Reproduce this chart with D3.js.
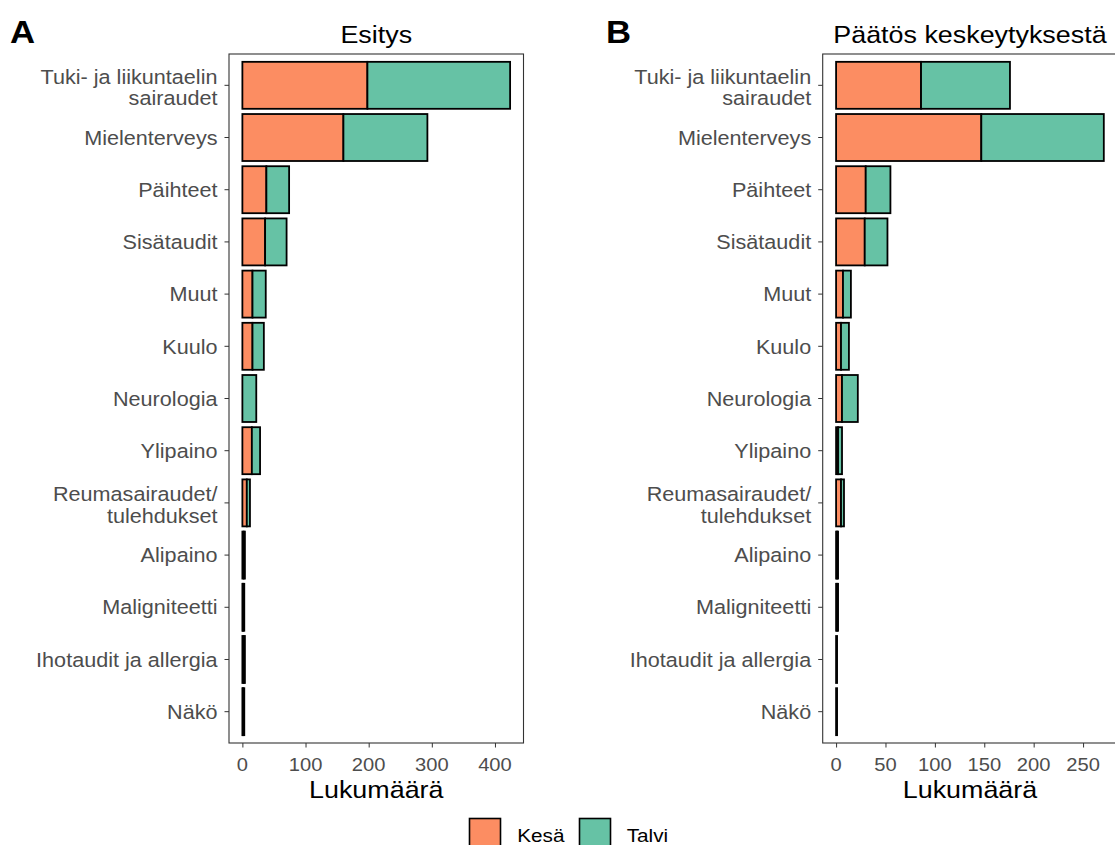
<!DOCTYPE html>
<html>
<head>
<meta charset="utf-8">
<script src="https://cdn.jsdelivr.net/npm/d3@7"></script>
<style>
  html, body { margin: 0; padding: 0; background: #fff; }
  svg { display: block; font-family: "Liberation Sans", Arial, sans-serif; }
</style>
</head>
<body>
<svg id="chart" width="1115" height="845"></svg>
<script>
// ---- Data ----
const categories = [
  "Tuki- ja liikuntaelin\nsairaudet", "Mielenterveys", "Päihteet", "Sisätaudit",
  "Muut", "Kuulo", "Neurologia", "Ylipaino", "Reumasairaudet/\ntulehdukset",
  "Alipaino", "Maligniteetti", "Ihotaudit ja allergia", "Näkö"
];
const seriesNames = ["Kesä", "Talvi"];
const seriesColors = ["#FC8D62", "#66C2A5"];

const esitysKesa  = [198, 160, 38, 36, 16, 16, 0, 15, 7, 2, 1, 2, 1];
const esitysTalvi = [226, 133, 36, 34, 21, 18, 22, 13, 5, 2, 2, 2, 2];
const paatosKesa  = [86, 147, 30, 29, 7, 5, 6, 2, 5, 1, 1, 0, 0];
const paatosTalvi = [90, 124, 25, 23, 8, 8, 16, 4, 3, 1, 1, 1, 1];

const ticksA = [0, 100, 200, 300, 400];
const ticksB = [0, 50, 100, 150, 200, 250];

const panelTitles = ["Esitys", "Päätös keskeytyksestä"];
const panelLetters = ["A", "B"];
const axisTitle = "Lukumäärä";

// ---- Layout ----
const SX = 1.12; // horizontal text stretch seen in the reference
const svg = d3.select("#chart");
const pTop = 54, pBottom = 743, panelW = 294.5;
const panels = [
  { left: 229, kesa: esitysKesa, talvi: esitysTalvi, ticks: ticksA, title: panelTitles[0], letter: panelLetters[0], letterX: 10 },
  { left: 822.7, kesa: paatosKesa, talvi: paatosTalvi, ticks: ticksB, title: panelTitles[1], letter: panelLetters[1], letterX: 606 }
];

function txt(g, x, y, s, opts) {
  const o = Object.assign({ size: 18, anchor: "start", weight: "normal", fill: "#000" }, opts || {});
  return g.append("text")
    .attr("transform", `translate(${x},${y}) scale(${SX},1)`)
    .attr("text-anchor", o.anchor)
    .attr("font-size", o.size)
    .attr("font-weight", o.weight)
    .attr("fill", o.fill)
    .text(s);
}

const yScale = d3.scaleBand().domain(categories).range([pTop, pBottom])
  .paddingInner(0.1).paddingOuter(0.15);

panels.forEach(p => {
  const g = svg.append("g");
  const totals = p.kesa.map((v, i) => v + p.talvi[i]);
  const mx = d3.max(totals);
  const x = d3.scaleLinear().domain([-0.05 * mx, 1.05 * mx]).range([p.left, p.left + panelW]);

  const rows = categories.map((c, i) => ({ c, k: p.kesa[i], t: p.talvi[i] }));
  const stackData = [];
  rows.forEach(r => {
    stackData.push({ c: r.c, x0: 0, x1: r.k, s: 0 });
    stackData.push({ c: r.c, x0: r.k, x1: r.k + r.t, s: 1 });
  });
  g.selectAll("rect.bar").data(stackData).join("rect")
    .attr("class", "bar")
    .attr("x", d => x(d.x0))
    .attr("width", d => Math.max(0, x(d.x1) - x(d.x0)))
    .attr("y", d => yScale(d.c))
    .attr("height", yScale.bandwidth())
    .attr("fill", d => seriesColors[d.s])
    .attr("stroke", "#000")
    .attr("stroke-width", 1.8);

  // panel border
  g.append("rect")
    .attr("x", p.left).attr("y", pTop)
    .attr("width", panelW).attr("height", pBottom - pTop)
    .attr("fill", "none").attr("stroke", "#333").attr("stroke-width", 1.1);

  // x axis
  const xa = g.append("g").attr("transform", `translate(0,${pBottom})`)
    .call(d3.axisBottom(x).tickValues(p.ticks).tickSize(4.5).tickSizeOuter(0).tickFormat(d3.format("d")));
  xa.select(".domain").remove();
  xa.selectAll(".tick line").attr("stroke", "#333").attr("stroke-width", 1);
  xa.selectAll(".tick text").remove();
  p.ticks.forEach(t => txt(g, x(t), 771, String(t), { size: 18, anchor: "middle", fill: "#4D4D4D" }));

  // y axis
  const ya = g.append("g").attr("transform", `translate(${p.left},0)`)
    .call(d3.axisLeft(yScale).tickSize(4.5).tickSizeOuter(0));
  ya.select(".domain").remove();
  ya.selectAll(".tick line").attr("stroke", "#333").attr("stroke-width", 1);
  ya.selectAll(".tick text").remove();
  categories.forEach(c => {
    const lines = c.split("\n");
    const cy = yScale(c) + yScale.bandwidth() / 2;
    const lh = 21.6;
    lines.forEach((ln, j) => {
      const by = cy + (j - (lines.length - 1) / 2) * lh + (lines.length > 1 ? 9 : 7.2);
      txt(g, p.left - 11.5, by, ln, { size: 19.3, anchor: "end", fill: "#4D4D4D" });
    });
  });

  // titles
  const cx = p.left + panelW / 2;
  txt(g, cx, 43.3, p.title, { size: 24, anchor: "middle" });
  txt(g, cx, 797.5, axisTitle, { size: 24, anchor: "middle" });
  txt(g, p.letterX, 43.3, p.letter, { size: 31, weight: "bold" });
});

// ---- Legend ----
const leg = svg.append("g");
const legItems = [
  { name: seriesNames[0], color: seriesColors[0], x: 469.5, tx: 517.3 },
  { name: seriesNames[1], color: seriesColors[1], x: 579.5, tx: 626.7 }
];
legItems.forEach(it => {
  leg.append("rect").attr("x", it.x).attr("y", 818.5).attr("width", 31).attr("height", 31)
    .attr("fill", it.color).attr("stroke", "#000").attr("stroke-width", 1.6);
  txt(leg, it.tx, 841.5, it.name, { size: 18.5 });
});
</script>
</body>
</html>
